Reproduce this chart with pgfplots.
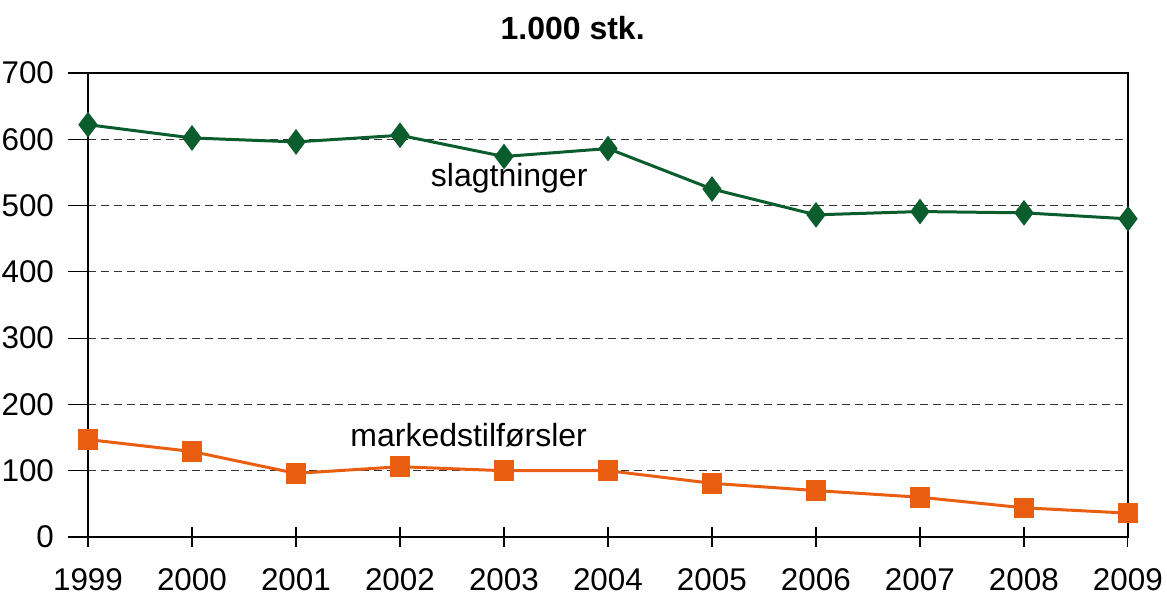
\documentclass[border=0pt]{standalone}
\usepackage{pgfplots}
\pgfplotsset{compat=1.18}
\usepackage{fontspec}
\setmainfont{Liberation Sans}
\definecolor{dgreen}{RGB}{11,93,46}
\definecolor{orng}{RGB}{234,94,18}
\begin{document}
\begin{tikzpicture}
\useasboundingbox (-44pt,-30pt) rectangle (539.5pt,268.5pt);
\begin{axis}[
  scale only axis, width=520pt, height=232pt,
  at={(0,0)}, anchor=south west,
  xmin=1999, xmax=2009, ymin=0, ymax=700,
  xtick={1999,...,2009}, ytick={0,100,...,700},
  xticklabel style={/pgf/number format/1000 sep={}},
  /pgf/number format/assume math mode=true,
  tick label style={font=\fontsize{15.7}{19}\selectfont},
  axis line style={line width=1pt},
  x tick style={line width=0.6pt, black}, y tick style={line width=0.6pt, black},
  xtick align=center, ytick align=outside,
  major tick length=10pt,
  xtick pos=bottom, ytick pos=left,
  xticklabel shift=7.5pt, yticklabel shift=3.5pt,
  ymajorgrids, grid style={black!80, line width=0.5pt, dash pattern=on 4pt off 2.5pt},
  clip=false,
]
\addplot[dgreen, line width=1.5pt, mark=diamond*, mark size=5.2pt] coordinates {
(1999,622) (2000,602) (2001,596) (2002,606) (2003,574) (2004,586)
(2005,525) (2006,486) (2007,491) (2008,489) (2009,480)};
\addplot[orng, line width=1.5pt, mark=square*, mark size=4.4pt] coordinates {
(1999,147) (2000,129) (2001,96) (2002,106) (2003,100) (2004,100)
(2005,81) (2006,70) (2007,60) (2008,44) (2009,36)};
\node[font=\fontsize{16}{19}\selectfont] at (axis cs:2003.05,541) {slagtninger};
\node[font=\fontsize{16}{19}\selectfont] at (axis cs:2002.66,154) {markedstilførsler};
\node[font=\bfseries\fontsize{16}{19}\selectfont] at (rel axis cs:0.466,1) [yshift=22.5pt] {1.000 stk.};
\end{axis}
\end{tikzpicture}
\end{document}
